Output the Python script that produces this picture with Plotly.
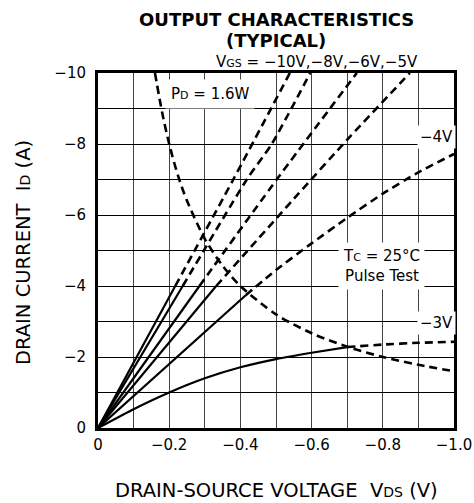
import plotly.graph_objects as go

FONT = "DejaVu Sans"

# ---- data (VDS in V, ID in A) ----
# VGS = -10V
v10_solid_v = [0, -0.217]
v10_solid_i = [0, -4.0]
v10_dash_v = [-0.217, -0.38, -0.539]
v10_dash_i = [-4.0, -7.0, -10.0]
# VGS = -8V
v8_solid_v = [0, -0.238]
v8_solid_i = [0, -4.0]
v8_dash_v = [-0.238, -0.418, -0.488, -0.596]
v8_dash_i = [-4.0, -7.0, -8.0, -10.0]
# VGS = -6V
v6_solid_v = [0, -0.285]
v6_solid_i = [0, -4.0]
v6_dash_v = [-0.285, -0.502, -0.727]
v6_dash_i = [-4.0, -7.0, -10.0]
# VGS = -5V
v5_solid_v = [0, -0.332]
v5_solid_i = [0, -4.0]
v5_dash_v = [-0.332, -0.563, -0.699, -0.876]
v5_dash_i = [-4.0, -6.6, -8.11, -10.0]
# VGS = -4V
v4_solid_v = [0, -0.415]
v4_solid_i = [0, -3.74]
v4_dash_v = [-0.415, -0.5, -0.6, -0.7, -0.8, -0.9, -1.0]
v4_dash_i = [-3.74, -4.45, -5.2, -5.92, -6.6, -7.2, -7.72]
# VGS = -3V
v3_solid_v = [0, -0.1, -0.2, -0.3, -0.4, -0.5, -0.6, -0.7]
v3_solid_i = [0, -0.53, -1.0, -1.40, -1.71, -1.94, -2.12, -2.28]
v3_dash_v = [-0.7, -0.8, -0.9, -1.0]
v3_dash_i = [-2.28, -2.35, -2.40, -2.43]
# PD = 1.6 W limit
pd_v = [-0.16, -0.18, -0.2, -0.225, -0.25, -0.3, -0.35, -0.4, -0.5, -0.6, -0.7, -0.8, -0.9, -1.0]
pd_i = [-10.0, -8.9, -8.0, -7.1, -6.4, -5.33, -4.57, -4.0, -3.2, -2.67, -2.29, -2.0, -1.78, -1.6]

x_tickvals = [0, -0.1, -0.2, -0.3, -0.4, -0.5, -0.6, -0.7, -0.8, -0.9, -1.0]
x_ticktext = ["0", "", "−0.2", "", "−0.4", "", "−0.6", "", "−0.8", "", "−1.0"]
y_tickvals = [0, -1, -2, -3, -4, -5, -6, -7, -8, -9, -10]
y_ticktext = ["0", "", "−2", "", "−4", "", "−6", "", "−8", "", "−10"]

curves = [
    (v10_solid_v, v10_solid_i, v10_dash_v, v10_dash_i),
    (v8_solid_v, v8_solid_i, v8_dash_v, v8_dash_i),
    (v6_solid_v, v6_solid_i, v6_dash_v, v6_dash_i),
    (v5_solid_v, v5_solid_i, v5_dash_v, v5_dash_i),
    (v4_solid_v, v4_solid_i, v4_dash_v, v4_dash_i),
    (v3_solid_v, v3_solid_i, v3_dash_v, v3_dash_i),
]

DASH = "8px,5px"
fig = go.Figure()
for sv, si, dv, di in curves:
    fig.add_trace(go.Scatter(x=sv, y=si, mode="lines",
                             line=dict(color="black", width=2.2, shape="spline", smoothing=0.6),
                             showlegend=False, hoverinfo="skip"))
    fig.add_trace(go.Scatter(x=dv, y=di, mode="lines",
                             line=dict(color="black", width=2.6, dash=DASH, shape="spline", smoothing=0.6),
                             showlegend=False, hoverinfo="skip"))
fig.add_trace(go.Scatter(x=pd_v, y=pd_i, mode="lines",
                         line=dict(color="black", width=2.6, dash=DASH, shape="spline", smoothing=0.8),
                         showlegend=False, hoverinfo="skip"))

small = "font-size:11px"
small_t = "font-size:14px"
PW, PH, PL, PB = 356, 355, 98, 428


def px(xp):
    return (xp - PL) / PW


def py(yp):
    return (PB - yp) / PH


def paper_ann(text, x, y, size=15, angle=0):
    return dict(text=text, x=px(x), y=py(y), xref="paper", yref="paper",
                xanchor="center", yanchor="middle", showarrow=False, textangle=angle,
                font=dict(family=FONT, size=size, color="black"))


def data_ann(text, x, y, pad):
    return dict(text=text, x=x, y=y, xanchor="center", yanchor="middle",
                showarrow=False, bgcolor="white", borderpad=pad,
                font=dict(family=FONT, size=15, color="black"))


ann = [
    paper_ann("<b>OUTPUT CHARACTERISTICS</b>", 276, 20, size=18),
    paper_ann("<b>(TYPICAL)</b>", 276, 41, size=18),
    paper_ann(f"V<span style='{small}'>GS</span> = −10V,−8V,−6V,−5V", 317, 62),
    paper_ann(f"DRAIN-SOURCE VOLTAGE\u00a0\u00a0V<span style='{small_t}'>DS</span> (V)", 276, 490, size=19.5),
    paper_ann(f"DRAIN CURRENT\u00a0\u00a0I<span style='{small_t}'>D</span> (A)", 23, 253, size=19.5, angle=-90),
    data_ann(f"P<span style='{small}'>D</span> = 1.6W", -0.315, -9.4, 5),
    data_ann(f"T<span style='{small}'>C</span> = 25°C<br>Pulse Test", -0.795, -4.57, 4),
    data_ann("−4V", -0.952, -8.2, 2),
    data_ann("−3V", -0.952, -2.95, 2),
]

fig.update_layout(
    width=474, height=503,
    margin=dict(l=98, r=20, t=73, b=75, autoexpand=False),
    paper_bgcolor="white", plot_bgcolor="white",
    font=dict(family=FONT, size=15, color="black"),
    annotations=ann,
)
fig.update_xaxes(range=[0, -1.0], tickmode="array", tickvals=x_tickvals, ticktext=x_ticktext,
                 showgrid=True, gridcolor="#444", gridwidth=1, zeroline=False, automargin=False,
                 showline=True, linecolor="black", linewidth=3, mirror=True,
                 ticks="", ticklabelstandoff=1, tickfont=dict(family=FONT, size=15, color="black"))
fig.update_yaxes(range=[0, -10], tickmode="array", tickvals=y_tickvals, ticktext=y_ticktext,
                 showgrid=True, gridcolor="black", gridwidth=1, zeroline=False, automargin=False,
                 showline=True, linecolor="black", linewidth=3, mirror=True,
                 ticks="", ticklabelstandoff=6, tickfont=dict(family=FONT, size=15, color="black"))

fig.write_html("out.html")
